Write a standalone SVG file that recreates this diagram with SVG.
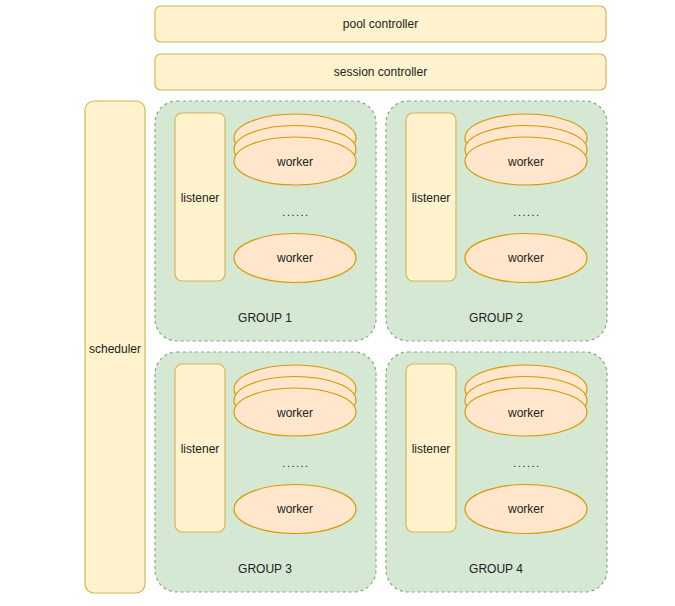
<svg xmlns="http://www.w3.org/2000/svg" width="675" height="606" viewBox="0 0 675 606">
<defs>
<style>
text{font-family:"Liberation Sans",Arial,Helvetica,sans-serif;font-size:12px;fill:#222;text-anchor:middle;dominant-baseline:central}
.y{fill:#fff2cc;stroke:#d6b656;stroke-width:1.2}
.g{fill:#d5e8d4;stroke:#8aa886;stroke-width:1.2;stroke-dasharray:3 3}
.w{fill:#ffe6cc;stroke:#d79b00;stroke-width:1.2}
.dots{font-size:11px;letter-spacing:1.5px}
</style>
<g id="groupTpl">
<rect class="g" x="155" y="101" width="221" height="240" rx="22"/>
<rect class="y" x="175" y="113" width="50" height="168" rx="7"/>
<text x="200" y="198">listener</text>
<ellipse class="w" cx="295" cy="138" rx="61" ry="24"/>
<ellipse class="w" cx="295" cy="149.5" rx="61" ry="24"/>
<ellipse class="w" cx="295" cy="161" rx="61" ry="24"/>
<text x="295" y="162">worker</text>
<text class="dots" x="296" y="212">......</text>
<ellipse class="w" cx="295" cy="258" rx="61" ry="24.5"/>
<text x="295" y="258">worker</text>
</g>
</defs>
<rect width="675" height="606" fill="#ffffff"/>
<g id="pool-controller">
<rect class="y" x="155" y="6" width="451" height="36" rx="6"/>
<text x="380.5" y="24">pool controller</text>
</g>
<g id="session-controller">
<rect class="y" x="155" y="54" width="451" height="36" rx="6"/>
<text x="380.5" y="72">session controller</text>
</g>
<g id="scheduler">
<rect class="y" x="85" y="101" width="60" height="492" rx="9"/>
<text x="115" y="349">scheduler</text>
</g>
<g id="group1">
<use href="#groupTpl"/>
<text x="265" y="318">GROUP 1</text>
</g>
<g id="group2">
<use href="#groupTpl" transform="translate(231,0)"/>
<text x="496" y="318">GROUP 2</text>
</g>
<g id="group3">
<use href="#groupTpl" transform="translate(0,251)"/>
<text x="265" y="569">GROUP 3</text>
</g>
<g id="group4">
<use href="#groupTpl" transform="translate(231,251)"/>
<text x="496" y="569">GROUP 4</text>
</g>
<g id="connectors"/>
</svg>
